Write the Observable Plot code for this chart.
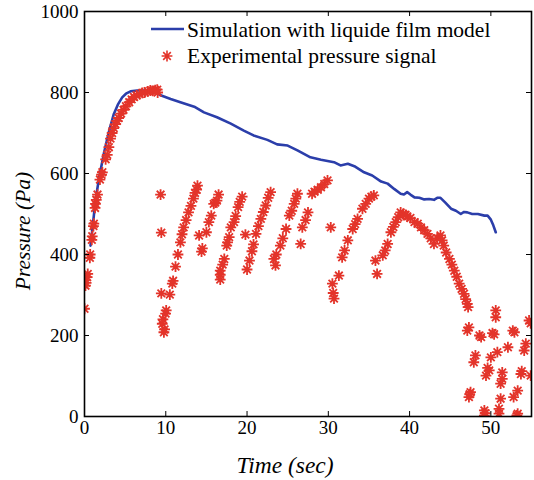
<!DOCTYPE html>
<html>
<head>
<meta charset="utf-8">
<script src="https://cdn.jsdelivr.net/npm/d3@7"></script>
<script src="https://cdn.jsdelivr.net/npm/@observablehq/plot@0.6"></script>
<style>
  html, body { margin: 0; padding: 0; background: #fff; }
  #wrap { position: relative; width: 534px; height: 480px; background: #fff; }
  #legend { position: absolute; left: 0; top: 0; pointer-events: none; }
</style>
</head>
<body>
<div id="wrap"></div>
<script>
// ---- Data ----
const seriesNames = ["Simulation with liquide film model", "Experimental pressure signal"];
const xLabel = "Time (sec)";
const yLabel = "Pressure (Pa)";
const xTicks = [0, 10, 20, 30, 40, 50];
const yTicks = [0, 200, 400, 600, 800, 1000];

// Simulation (blue line)
const simT = [0.74,0.95,1.35,1.8,2.38,2.99,3.61,4.1,4.64,5.1,5.67,6.5,7.72,8.5,9.36,10.6,11.8,13.5,14.7,16.3,18.0,19.6,20.8,22.5,23.7,25.0,26.2,27.8,29.1,30.7,31.5,32.4,33.2,34.4,35.4,36.5,37.3,38.1,38.9,39.3,39.7,40.1,40.6,41.2,41.8,42.4,43.0,43.4,43.8,44.4,45.1,45.7,46.3,46.7,47.1,47.7,48.4,49.2,49.6,50.0,50.3,50.6];
const simP = [422,459,533,590,649,702,747,770,788,797,803,805,805,804,793,784,776,765,751,739,723,706,694,683,672,669,657,640,634,628,620,624,618,603,595,580,575,562,550,548,554,548,541,540,536,537,535,540,540,528,513,508,500,505,504,500,500,496,496,486,472,455];

// Experimental (red asterisks)
const expT = [
  0.0,0.12,0.2,0.33,0.4,0.66,0.7,0.9,0.95,1.1,1.15,1.3,1.35,1.45,1.6,1.9,2.1,2.2,2.6,2.8,3.0,3.2,3.4,3.6,3.8,4.0,4.2,4.5,4.8,5.1,5.5,5.8,6.1,6.4,6.8,7.1,7.4,7.8,8.1,8.4,8.7,8.95,9.0,
  9.36,9.45,
  9.45,9.57,9.65,9.77,9.85,9.98,10.05,10.5,10.8,10.9,11.2,11.5,11.8,12.0,12.2,12.5,12.8,13.1,13.4,13.6,13.8,13.9,
  14.1,14.4,14.5,15.0,15.3,15.6,15.9,16.1,16.3,16.5,
  16.7,16.7,16.7,17.0,17.2,17.5,17.6,17.8,18.0,18.4,18.6,18.9,19.1,19.4,
  19.8,
  20.0,20.3,20.6,20.8,21.1,21.4,21.7,22.0,22.3,22.6,22.9,
  23.3,23.5,23.6,24.1,24.4,24.8,25.2,25.5,25.8,26.0,26.2,
  26.6,26.8,27.2,27.5,28.0,28.3,28.7,29.1,29.5,29.9,
  30.3,
  30.7,30.5,30.6,31.3,31.7,32.0,32.4,33.0,33.3,33.6,34.2,34.6,35.0,35.3,35.6,
  36.0,35.8,36.7,37.0,37.3,37.7,38.0,38.3,38.6,38.9,39.2,39.5,39.7,40.1,40.6,41.0,41.4,41.8,42.2,42.6,43.0,43.4,43.8,44.0,44.2,44.5,44.9,45.2,45.5,45.8,46.1,46.4,46.7,46.9,47.1,47.2,
  47.1,47.3,48.6,48.8,50.2,50.4,52.7,52.9,54.7,54.9,50.6,50.6,54.3,54.1,52.1,50.8,50.0,48.1,47.9,49.8,49.6,49.4,51.4,51.4,51.2,53.7,53.8,54.9,53.3,52.8,51.2,47.5,47.3,47.4,49.2,49.2,49.3,51.0,51.0,53.3,53.2
];
const expP = [
  266,323,330,344,352,392,400,436,445,470,476,515,525,535,548,585,597,603,635,646,665,686,700,712,722,730,737,748,757,766,776,783,789,793,796,799,800,803,805,804,806,807,800,
  548,454,
  304,229,240,208,215,254,262,301,328,335,370,400,430,450,467,485,504,520,538,552,560,570,
  447,407,415,455,480,496,525,528,533,548,
  338,350,360,375,389,422,430,443,467,480,495,517,530,543,
  449,
  363,385,408,425,451,470,488,505,521,540,554,
  389,373,400,422,440,463,496,508,525,538,550,
  426,467,485,504,550,555,560,566,574,583,
  467,
  291,328,305,348,393,410,435,463,475,488,513,525,538,543,546,
  352,385,398,410,426,455,468,480,492,504,500,498,494,490,480,476,467,460,451,440,426,440,447,435,422,405,389,375,360,345,328,315,303,290,278,270,
  212,220,200,196,206,203,212,208,237,230,262,245,180,163,171,159,146,151,134,114,120,101,109,93,81,105,112,101,64,48,44,60,48,55,15,2,8,19,7,7,3
];

const sim = simT.map((t, i) => ({t, p: simP[i]}));
const exp = expT.map((t, i) => ({t, p: expP[i]}));

// ---- Style ----
const BLUE = "#2b3eaa";
const RED = "#e3342a";
const FONT = "Liberation Serif, DejaVu Serif, Noto Serif, Tinos, Times New Roman, Times, serif";

// 8-armed MATLAB-like asterisk
const star8 = {
  draw(ctx, size) {
    const r = Math.sqrt(size / Math.PI);
    const d = r * Math.SQRT1_2;
    ctx.moveTo(-r, 0); ctx.lineTo(r, 0);
    ctx.moveTo(0, -r); ctx.lineTo(0, r);
    ctx.moveTo(-d, -d); ctx.lineTo(d, d);
    ctx.moveTo(-d, d); ctx.lineTo(d, -d);
  }
};

const W = 534, H = 480, ML = 84, MR = 3, MT = 11, MB = 64;
const innerW = W - ML - MR, innerH = H - MT - MB, TK = 5;

const chart = Plot.plot({
  width: W, height: H,
  marginLeft: ML, marginRight: MR, marginTop: MT, marginBottom: MB,
  style: {fontFamily: FONT, fontSize: "19px", color: "#000", background: "#fff", overflow: "visible"},
  x: {domain: [0, 55]},
  y: {domain: [0, 1000]},
  marks: [
    Plot.line(sim, {x: "t", y: "p", stroke: BLUE, strokeWidth: 2.6, curve: "linear"}),
    Plot.dot(exp, {x: "t", y: "p", symbol: star8, r: 5.4, fill: "none", stroke: RED, strokeWidth: 1.8, clip: true}),
    Plot.tickX(xTicks, {x: d => d, insetTop: innerH - TK, stroke: "#000", strokeWidth: 1}),
    Plot.tickX(xTicks, {x: d => d, insetBottom: innerH - TK, stroke: "#000", strokeWidth: 1}),
    Plot.tickY(yTicks, {y: d => d, insetRight: innerW - TK, stroke: "#000", strokeWidth: 1}),
    Plot.tickY(yTicks, {y: d => d, insetLeft: innerW - TK, stroke: "#000", strokeWidth: 1}),
    Plot.frame({stroke: "#000", strokeWidth: 1.6}),
    Plot.axisX(xTicks, {anchor: "bottom", tickSize: 0, tickPadding: 4, tickFormat: d => String(d), label: null, fontSize: 19, fontFamily: FONT}),
    Plot.axisY(yTicks, {anchor: "left", tickSize: 0, tickPadding: 6, tickFormat: d => String(d), label: null, fontSize: 19, fontFamily: FONT}),
    Plot.text([xLabel], {text: d => d, frameAnchor: "bottom", dx: -23, dy: 49, fontSize: 23.5, fontStyle: "italic", fontFamily: FONT, lineAnchor: "middle", textAnchor: "middle"}),
    Plot.text([yLabel], {text: d => d, frameAnchor: "left", rotate: -90, dx: -61, dy: 17, fontSize: 21.5, fontStyle: "italic", fontFamily: FONT, lineAnchor: "middle", textAnchor: "middle"})
  ]
});

const wrap = document.getElementById("wrap");
wrap.appendChild(chart);

// ---- Legend (inside the axes, top) ----
const ns = "http://www.w3.org/2000/svg";
const leg = document.createElementNS(ns, "svg");
leg.setAttribute("id", "legend");
leg.setAttribute("width", W);
leg.setAttribute("height", 80);
leg.style.fontFamily = FONT;
const mk = (tag, attrs) => { const e = document.createElementNS(ns, tag); for (const k in attrs) e.setAttribute(k, attrs[k]); leg.appendChild(e); return e; };
mk("line", {x1: 151, x2: 184, y1: 29, y2: 29, stroke: BLUE, "stroke-width": 2.6});
const t1 = mk("text", {x: 187, y: 36.5, "font-size": 21.5, fill: "#000"}); t1.textContent = seriesNames[0];
const sr = 5.4, sd = sr * Math.SQRT1_2, cx = 167, cy = 56;
mk("path", {d: `M${cx-sr},${cy}L${cx+sr},${cy}M${cx},${cy-sr}L${cx},${cy+sr}M${cx-sd},${cy-sd}L${cx+sd},${cy+sd}M${cx-sd},${cy+sd}L${cx+sd},${cy-sd}`, stroke: RED, "stroke-width": 1.6, fill: "none"});
const t2 = mk("text", {x: 187, y: 63, "font-size": 21.5, fill: "#000"}); t2.textContent = seriesNames[1];
wrap.appendChild(leg);
</script>
</body>
</html>
